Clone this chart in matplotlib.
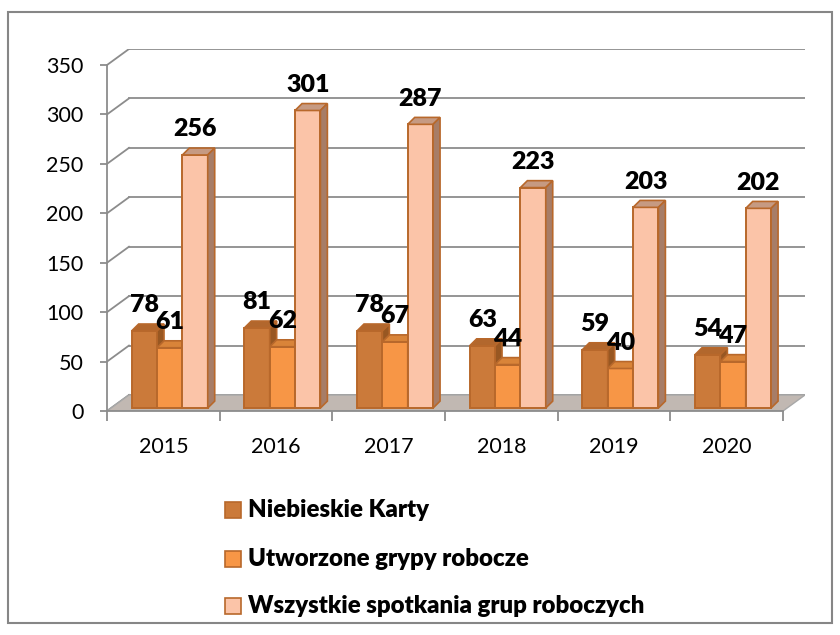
import matplotlib
matplotlib.use("Agg")
import matplotlib.pyplot as plt
from matplotlib.patches import Polygon, Rectangle

# data
years = ["2015", "2016", "2017", "2018", "2019", "2020"]
niebieskie_karty = [78, 81, 78, 63, 59, 54]
grupy_robocze = [61, 62, 67, 44, 40, 47]
spotkania = [256, 301, 287, 223, 203, 202]
series_names = ["Niebieskie Karty", "Utworzone grypy robocze",
                "Wszystkie spotkania grup roboczych"]
y_ticks = [0, 50, 100, 150, 200, 250, 300, 350]

# face colours: front, top, side
COLORS = [
    ("#CB7A3A", "#B2672D", "#985722"),
    ("#F79646", "#D98439", "#B0692B"),
    ("#FBC4A8", "#C69A82", "#A77D67"),
]
EDGE = "#B8682B"
GRID = "#8C8C8C"
FONT = "Lato"

# 3-D look: wall offset and bar depth in data units
WALL_DX, WALL_DY = 0.195, 16.2
BAR_DX, BAR_DY = 0.062, 7.0
BAR_W = 0.225
BAR_X0 = [0.219, 0.444, 0.669]
BAR_Y0 = 3.0

fig = plt.figure(figsize=(8.4, 6.35), dpi=100)
ax = fig.add_axes([107 / 840, 1 - 411 / 635, 698 / 840, 362 / 635])
ax.set_xlim(0, 6 + WALL_DX)
ax.set_ylim(0, 350 + WALL_DY)

# back wall gridlines + diagonals to the front axis
for v in y_ticks:
    ax.plot([WALL_DX, 6 + WALL_DX], [v + WALL_DY, v + WALL_DY], color=GRID, lw=1.3, zorder=1)
    ax.plot([0, WALL_DX], [v, v + WALL_DY], color=GRID, lw=1.3, zorder=1)

# floor
ax.add_patch(Polygon([(0, 0), (6, 0), (6 + WALL_DX, WALL_DY), (WALL_DX, WALL_DY)],
                     closed=True, facecolor="#C1B8B2", edgecolor="#A8A8A8", lw=1, zorder=2))

x = list(range(len(years)))
for s, vals in enumerate([niebieskie_karty, grupy_robocze, spotkania]):
    front, top, side = COLORS[s]
    lefts = [i + BAR_X0[s] for i in x]
    ax.bar(lefts, vals, width=BAR_W, bottom=BAR_Y0, align="edge", color=front,
           edgecolor=EDGE, lw=1.4, zorder=3 + s)
    for xl, v in zip(lefts, vals):
        yt = BAR_Y0 + v
        ax.add_patch(Polygon([(xl, yt), (xl + BAR_W, yt), (xl + BAR_W + BAR_DX, yt + BAR_DY),
                              (xl + BAR_DX, yt + BAR_DY)], closed=True, facecolor=top,
                             edgecolor=EDGE, lw=1.2, zorder=3 + s))
        ax.add_patch(Polygon([(xl + BAR_W, BAR_Y0), (xl + BAR_W + BAR_DX, BAR_Y0 + BAR_DY),
                              (xl + BAR_W + BAR_DX, yt + BAR_DY), (xl + BAR_W, yt)], closed=True,
                             facecolor=side, edgecolor=EDGE, lw=1.2, zorder=3 + s))
        ax.text(xl + BAR_W / 2, yt + 26, str(v), ha="center", va="center", fontsize=18,
                fontweight="heavy", family=FONT, zorder=10)

# axes styling
for sp in ["top", "right"]:
    ax.spines[sp].set_visible(False)
ax.spines["left"].set_bounds(0, 350)
ax.spines["bottom"].set_bounds(0, 6)
ax.spines["left"].set_color(GRID)
ax.spines["bottom"].set_color(GRID)
ax.spines["left"].set_linewidth(1.3)
ax.spines["bottom"].set_linewidth(1.3)
ax.set_yticks(y_ticks)
ax.set_yticklabels([str(t) for t in y_ticks], family=FONT, fontsize=15.5)
ax.tick_params(axis="y", length=5, width=1.3, color=GRID, pad=12)
ax.set_xticks(range(7))
ax.set_xticklabels([])
ax.set_xticks([i + 0.5 for i in x], minor=True)
ax.set_xticklabels(years, minor=True, family=FONT, fontsize=15.5)
ax.tick_params(axis="x", which="major", length=7, width=1.3, color=GRID)
ax.tick_params(axis="x", which="minor", length=0, pad=19)

# legend drawn by hand, stacked like the reference
for k, name in enumerate(series_names):
    yc = 1 - [510, 559, 606][k] / 635
    fig.patches.append(Rectangle((225 / 840, yc - 8 / 635), 16 / 840, 16 / 635,
                                 transform=fig.transFigure, facecolor=COLORS[k][0],
                                 edgecolor=EDGE, lw=1.2))
    fig.text(248 / 840, yc, name, ha="left", va="center", fontsize=17.3,
             fontweight="heavy", family=FONT)

# outer chart border
fig.patches.append(Rectangle((8 / 840, 12 / 635), 824 / 840, 611 / 635,
                             transform=fig.transFigure, fill=False, edgecolor="#868686", lw=1.5))

fig.savefig("out.png", dpi=100)
